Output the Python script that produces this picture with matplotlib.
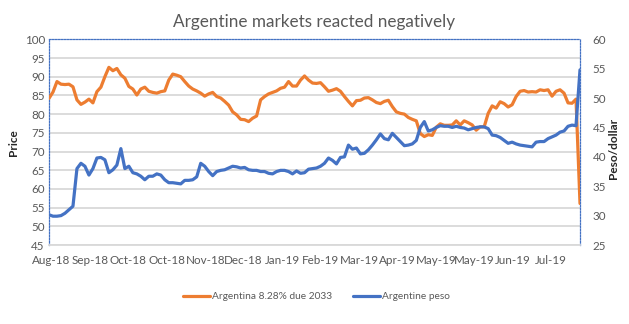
import matplotlib
matplotlib.use('Agg')
import matplotlib.pyplot as plt
import numpy as np

# ---- data ----
tick_labels = ['Aug-18', 'Sep-18', 'Oct-18', 'Oct-18', 'Nov-18', 'Dec-18', 'Jan-19',
               'Feb-19', 'Mar-19', 'Apr-19', 'May-19', 'May-19', 'Jun-19', 'Jul-19']

bond_price = [84.2, 85.9, 88.7, 88.0, 87.9, 88.0, 87.3, 83.8, 82.6, 83.2,
              84.0, 83.0, 86.0, 87.2, 90.0, 92.5, 91.6, 92.2, 90.5, 89.6,
              87.4, 86.7, 85.1, 86.7, 87.2, 86.1, 85.8, 85.6, 86.0, 86.2,
              89.1, 90.7, 90.4, 90.0, 88.7, 87.5, 86.7, 86.2, 85.6, 84.8,
              85.4, 85.8, 84.7, 84.3, 83.4, 82.4, 80.6, 79.8, 78.6, 78.5,
              78.0, 78.9, 79.5, 83.8, 84.7, 85.4, 85.8, 86.2, 86.9, 87.2,
              88.7, 87.5, 87.5, 89.1, 90.2, 89.1, 88.3, 88.2, 88.4, 87.3,
              86.1, 86.4, 86.8, 86.1, 84.7, 83.4, 82.2, 83.6, 83.7, 84.3,
              84.4, 83.8, 83.1, 82.8, 83.4, 83.7, 82.0, 80.6, 80.2, 80.0,
              79.1, 78.6, 78.2, 74.8, 74.0, 74.5, 74.3, 76.5, 77.4, 77.0,
              77.0, 77.1, 78.2, 77.1, 78.2, 77.7, 77.1, 75.7, 76.6, 76.6,
              80.2, 82.2, 81.6, 83.3, 82.8, 81.9, 82.5, 84.7, 86.1, 86.3,
              85.9, 86.0, 85.9, 86.5, 86.3, 86.5, 84.8, 86.1, 86.5, 85.6,
              83.0, 82.9, 84.0, 56.1]

peso_per_dollar = [30.15, 29.9, 29.9, 30.0, 30.4, 31.0, 31.6, 38.0, 38.9, 38.4,
                   36.9, 38.0, 39.8, 39.9, 39.5, 37.3, 37.8, 38.6, 41.4, 38.0,
                   38.4, 37.3, 37.1, 36.7, 36.1, 36.7, 36.7, 37.1, 36.9, 36.1,
                   35.6, 35.6, 35.5, 35.4, 36.0, 36.0, 36.1, 36.6, 38.9, 38.4,
                   37.5, 36.8, 37.5, 37.7, 37.8, 38.1, 38.4, 38.3, 38.1, 38.2,
                   37.8, 37.7, 37.7, 37.5, 37.5, 37.2, 37.1, 37.5, 37.7, 37.7,
                   37.5, 37.1, 37.6, 37.2, 37.3, 37.9, 38.0, 38.1, 38.4, 38.9,
                   39.8, 39.4, 38.8, 39.9, 40.0, 42.0, 41.3, 41.5, 40.5, 40.6,
                   41.2, 42.0, 42.9, 43.9, 43.1, 42.9, 44.0, 43.3, 42.6, 41.9,
                   42.0, 42.2, 42.8, 45.0, 46.0, 44.4, 44.6, 45.0, 45.3, 45.2,
                   45.2, 45.0, 45.2, 45.0, 44.9, 44.6, 44.8, 45.0, 45.1, 45.1,
                   44.8, 43.7, 43.6, 43.3, 42.8, 42.3, 42.5, 42.2, 42.0, 41.9,
                   41.8, 41.7, 42.5, 42.6, 42.6, 43.1, 43.4, 43.7, 44.2, 44.4,
                   45.2, 45.4, 45.3, 54.8]

bond_name = 'Argentina 8.28% due 2033'
peso_name = 'Argentine peso'

# ---- styling ----
plt.rcParams['font.family'] = ['Lato', 'DejaVu Sans']
ORANGE = '#ED7D31'
BLUE = '#4472C4'
GREY_TXT = '#595959'
GRID = '#D9D9D9'

W, H = 629, 324
fig = plt.figure(figsize=(W / 100, H / 100), dpi=100)
left, right, top, bottom = 49, 580, 39.3, 245
ax = fig.add_axes([left / W, 1 - bottom / H, (right - left) / W, (bottom - top) / H])

x = np.arange(len(bond_price))
l1, = ax.plot(x, bond_price, color=ORANGE, lw=2.3, solid_joinstyle='round',
              solid_capstyle='round', label=bond_name, zorder=3)
ax.set_ylim(45, 100)
ax.set_yticks(np.arange(45, 101, 5))
ax.set_xlim(0, len(bond_price) - 1)
ax.grid(axis='y', color=GRID, lw=1.3)
ax.set_axisbelow(True)

tick_step = (len(bond_price) - 1) * 38.45 / (right - left)
ax.set_xticks([0.6 + tick_step * k for k in range(len(tick_labels))])
ax.set_xticklabels(tick_labels)

ax2 = ax.twinx()
l2, = ax2.plot(x, peso_per_dollar, color=BLUE, lw=2.3, solid_joinstyle='round',
               solid_capstyle='round', label=peso_name, zorder=4)
ax2.set_ylim(25, 60)
ax2.set_yticks(np.arange(25, 61, 5))

for a in (ax, ax2):
    for s in a.spines.values():
        s.set_visible(False)
    a.tick_params(length=0, labelsize=8.4, labelcolor=GREY_TXT)
ax.tick_params(axis='y', pad=3)
ax.tick_params(axis='x', pad=7)
ax2.tick_params(axis='y', pad=9)

for side in ('top', 'left', 'right'):
    sp = ax.spines[side]
    sp.set_visible(True)
    sp.set_color(BLUE)
    sp.set_linestyle((0, (1.2, 1.2)))
    sp.set_linewidth(0.9)
ax.spines['bottom'].set_visible(True)
ax.spines['bottom'].set_color(GRID)
ax.spines['bottom'].set_linewidth(1.3)

ax.set_ylabel('Price', fontsize=8.5, fontweight='bold', color='#262626')
ax.yaxis.set_label_coords(-0.057, 0.5)
ax2.set_ylabel('Peso/dollar', fontsize=8.5, fontweight='bold', color='#262626')
ax2.yaxis.set_label_coords(1.052, 0.47)

fig.text(314 / W, 1 - 22 / H, 'Argentine markets reacted negatively',
         ha='center', va='center', fontsize=12.3, color=GREY_TXT)

fig.legend(handles=[l1, l2], loc='center', bbox_to_anchor=(316.5 / W, 1 - 296.7 / H),
           ncol=2, frameon=False, fontsize=7.3, handlelength=2.65, handletextpad=0.2,
           columnspacing=2.0, labelcolor=GREY_TXT)

fig.savefig('out.png', dpi=100)
